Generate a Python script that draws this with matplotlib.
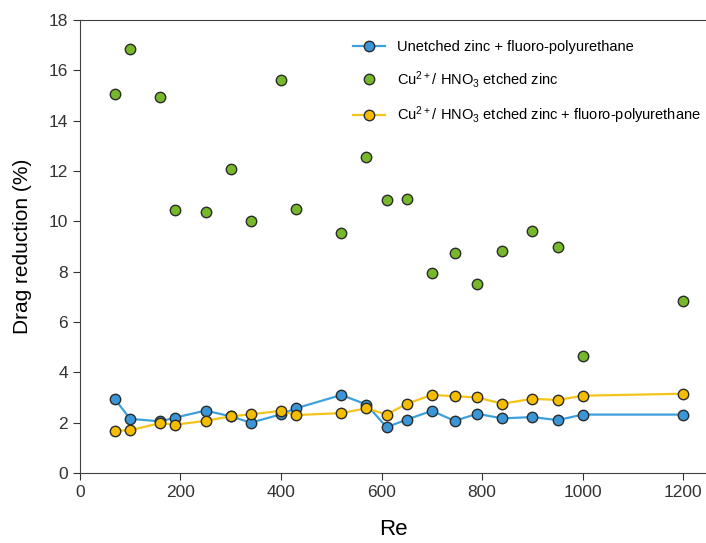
import matplotlib
matplotlib.use("Agg")
import matplotlib.pyplot as plt

plt.rcParams['font.family'] = ['Liberation Sans', 'DejaVu Sans']
plt.rcParams['mathtext.default'] = 'regular'

# Reynolds numbers
re_vals = [70, 100, 160, 190, 250, 300, 340, 400, 430, 520, 570,
           610, 650, 700, 745, 790, 840, 900, 950, 1000, 1200]

# drag reduction (%)
unetched_fpu = [2.93, 2.15, 2.05, 2.2, 2.48, 2.25, 2.0, 2.33, 2.57, 3.1, 2.72,
                1.82, 2.12, 2.47, 2.07, 2.35, 2.17, 2.22, 2.1, 2.32, 2.32]
etched_zinc = [15.05, 16.85, 14.95, 10.45, 10.38, 12.07, 10.0, 15.6, 10.5, 9.53, 12.57,
               10.85, 10.9, 7.95, 8.75, 7.5, 8.83, 9.63, 8.97, 4.65, 6.83]
etched_fpu = [1.68, 1.7, 1.98, 1.92, 2.07, 2.25, 2.33, 2.47, 2.3, 2.38, 2.57,
              2.32, 2.75, 3.1, 3.05, 3.0, 2.75, 2.95, 2.9, 3.07, 3.15]

fig = plt.figure(figsize=(7.06, 5.43), dpi=100)
ax = fig.add_axes([0.113, 0.129, 0.887, 0.834])

mk = dict(marker='o', markersize=7.5, markeredgecolor='#2b2b2b', markeredgewidth=1.0)
ax.plot(re_vals, unetched_fpu, color='#3da0dc', lw=1.6, markerfacecolor='#3a96d6',
        label='Unetched zinc + fluoro-polyurethane', **mk)
ax.plot(re_vals, etched_zinc, color='none', lw=0, markerfacecolor='#76b82a',
        label='Cu$^{2+}$/ HNO$_3$ etched zinc', **mk)
ax.plot(re_vals, etched_fpu, color='#f5c41a', lw=1.6, markerfacecolor='#f5bd00',
        label='Cu$^{2+}$/ HNO$_3$ etched zinc + fluoro-polyurethane', **mk)

ax.set_xlim(0, 1245)
ax.set_ylim(0, 18)
ax.set_xticks(range(0, 1201, 200))
ax.set_yticks(range(0, 19, 2))
ax.tick_params(direction='out', labelsize=12.5, colors='#333333', length=5)
for s in ['left', 'bottom', 'top']:
    ax.spines[s].set_color('#404040')
ax.spines['right'].set_visible(False)

ax.set_xlabel('Re', fontsize=16, labelpad=14)
ax.set_ylabel('Drag reduction (%)', fontsize=15, labelpad=12)

ax.legend(loc='upper right', frameon=False, fontsize=10.5, labelspacing=1.0,
          handlelength=2.2, bbox_to_anchor=(1.012, 0.985))

fig.savefig('out.png', dpi=100)
